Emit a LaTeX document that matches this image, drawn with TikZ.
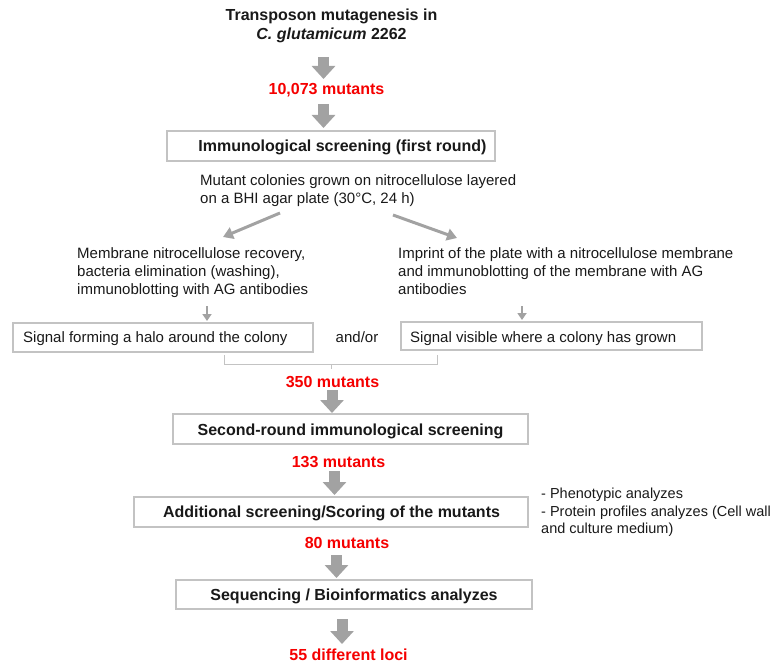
\documentclass[tikz,border=0pt]{standalone}
\usepackage{fontspec}
\setmainfont{Liberation Sans}
\usetikzlibrary{arrows.meta}
\definecolor{txt}{RGB}{25,25,25}
\definecolor{myred}{RGB}{245,0,0}
\definecolor{arrgray}{RGB}{162,162,162}
\definecolor{boxgray}{RGB}{195,195,195}
\begin{document}
\begin{tikzpicture}[x=1pt,y=-1pt,
  bold/.style={font=\fontsize{16}{19}\selectfont\bfseries, text=txt, inner sep=0pt},
  reg/.style={font=\fontsize{15}{18}\selectfont, text=txt, inner sep=0pt},
  note/.style={font=\fontsize{14.5}{17}\selectfont, text=txt, inner sep=0pt},
  redlbl/.style={font=\fontsize{16}{19}\selectfont\bfseries, text=myred, inner sep=0pt},
  box/.style={draw=boxgray, line width=1.2pt, inner sep=0pt, fill=white},
  blockarrow/.style={draw=arrgray, line width=11pt, -{Triangle[width=23pt,length=13pt]}},
  thinarrow/.style={draw=arrgray, line width=3pt, -{Triangle[width=12pt,length=10pt]}},
  smallarrow/.style={draw=arrgray, line width=2pt, -{Triangle[width=9pt,length=7pt]}},
  bracket/.style={draw=boxgray, line width=1pt}
]
\useasboundingbox (0,0) rectangle (783,663);

% title
\node[bold, anchor=base] (t0a) at (331.5,21) {Transposon mutagenesis in};
\node[bold, anchor=base] (t0b) at (331.5,40) {\textit{C. glutamicum} 2262};
\coordinate (a1s) at (323.5,57); \coordinate (a1e) at (323.5,79);
\draw[blockarrow] (a1s) -- (a1e);
\node[redlbl, anchor=base] (m1) at (326.5,95) {10,073 mutants};
\coordinate (a2s) at (323.5,104); \coordinate (a2e) at (323.5,128);
\draw[blockarrow] (a2s) -- (a2e);

% box 1
\node[box, minimum width=328pt, minimum height=30pt] (b1) at (331,146) {};
\node[bold, anchor=base] (t1) at (342.5,152) {Immunological screening (first round)};

\node[reg, anchor=base west] (c1) at (200,185) {Mutant colonies grown on nitrocellulose layered};
\node[reg, anchor=base west] (c2) at (200,203) {on a BHI agar plate (30°C, 24 h)};

\coordinate (la1) at (280,213); \coordinate (la2) at (223,237);
\draw[thinarrow] (la1) -- (la2);
\coordinate (ra1) at (393,215); \coordinate (ra2) at (457,238);
\draw[thinarrow] (ra1) -- (ra2);

% left branch
\node[reg, anchor=base west] (l1) at (77,258) {Membrane nitrocellulose recovery,};
\node[reg, anchor=base west] (l2) at (77,276) {bacteria elimination (washing),};
\node[reg, anchor=base west] (l3) at (77,294) {immunoblotting with AG antibodies};
\coordinate (ls1) at (207,306); \coordinate (ls2) at (207,321);
\draw[smallarrow] (ls1) -- (ls2);
\node[box, minimum width=300pt, minimum height=29pt] (bl) at (163,337.5) {};
\node[reg, anchor=base west] (tl) at (23,342) {Signal forming a halo around the colony};

\node[reg, anchor=base] (ao) at (357,342) {and/or};

% right branch
\node[reg, anchor=base west] (r1) at (398,258) {Imprint of the plate with a nitrocellulose membrane};
\node[reg, anchor=base west] (r2) at (398,276) {and immunoblotting of the membrane with AG};
\node[reg, anchor=base west] (r3) at (398,294) {antibodies};
\coordinate (rs1) at (522,306); \coordinate (rs2) at (522,320);
\draw[smallarrow] (rs1) -- (rs2);
\node[box, minimum width=301pt, minimum height=28pt] (br) at (551.5,336) {};
\node[reg, anchor=base west] (tr) at (410,342) {Signal visible where a colony has grown};

% bracket
\coordinate (k1) at (224,355); \coordinate (k2) at (224,364);
\coordinate (k3) at (437,364); \coordinate (k4) at (437,355);
\coordinate (k5) at (331,364); \coordinate (k6) at (331,369);
\draw[bracket] (k1) -- (k2) -- (k3) -- (k4);
\draw[bracket] (k5) -- (k6);

\node[redlbl, anchor=base] (m2) at (332.5,387) {350 mutants};
\coordinate (a3s) at (332,390); \coordinate (a3e) at (332,413);
\draw[blockarrow] (a3s) -- (a3e);

\node[box, minimum width=355pt, minimum height=30pt] (b2) at (350.5,429) {};
\node[bold, anchor=base] (t2) at (350.5,435) {Second-round immunological screening};

\node[redlbl, anchor=base] (m3) at (338.5,467) {133 mutants};
\coordinate (a4s) at (334.5,471); \coordinate (a4e) at (334.5,495);
\draw[blockarrow] (a4s) -- (a4e);

\node[box, minimum width=394pt, minimum height=30pt] (b3) at (331,512) {};
\node[bold, anchor=base] (t3) at (331.5,517) {Additional screening/Scoring of the mutants};

\node[note, anchor=base west] (n1) at (541,498) {- Phenotypic analyzes};
\node[note, anchor=base west] (n2) at (541,516) {- Protein profiles analyzes (Cell wall};
\node[note, anchor=base west] (n3) at (541,533) {and culture medium)};

\node[redlbl, anchor=base] (m4) at (347,548) {80 mutants};
\coordinate (a5s) at (336.5,555); \coordinate (a5e) at (336.5,578);
\draw[blockarrow] (a5s) -- (a5e);

\node[box, minimum width=356pt, minimum height=29pt] (b4) at (354,594.5) {};
\node[bold, anchor=base] (t4) at (354,600) {Sequencing / Bioinformatics analyzes};

\coordinate (a6s) at (342,619); \coordinate (a6e) at (342,644);
\draw[blockarrow] (a6s) -- (a6e);
\node[redlbl, anchor=base] (m5) at (348.5,660) {55 different loci};
\end{tikzpicture}
\end{document}
